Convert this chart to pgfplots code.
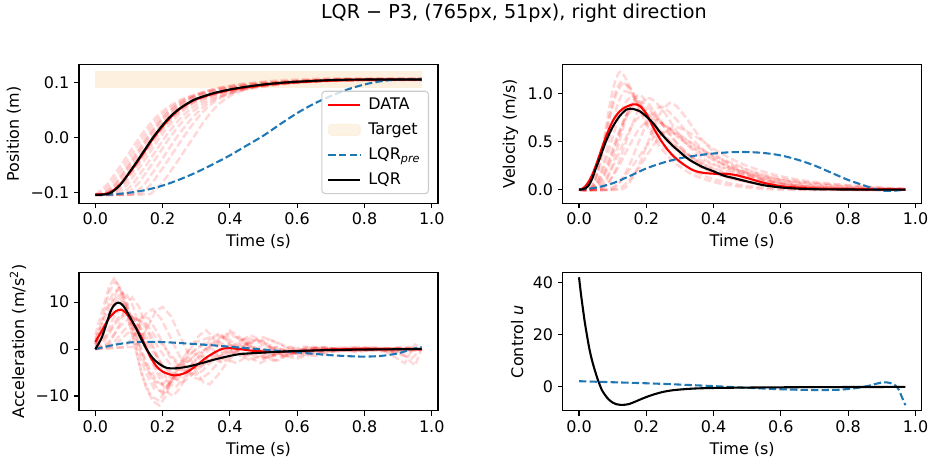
\documentclass[border=0pt]{standalone}
\usepackage{fontspec}
\setmainfont{DejaVu Sans}
\usepackage{pgfplots}
\pgfplotsset{compat=1.18}
\definecolor{tabblue}{HTML}{1F77B4}
\definecolor{targetc}{RGB}{253,240,222}
\pgfplotsset{
  myax/.style={
    scale only axis, width=258.48bp, height=99.72bp,
    anchor=north west,
    xmin=-0.0485, xmax=1.0185,
    xtick={0,0.2,0.4,0.6,0.8,1.0},
    xticklabels={0.0,0.2,0.4,0.6,0.8,1.0},
    tick align=outside, xtick pos=bottom, ytick pos=left,
    major tick length=3.4bp,
    every tick/.style={black, line width=0.77bp},
    axis line style={line width=0.77bp},
    tick label style={font=\fontsize{11.5bp}{13bp}\selectfont},
    label style={font=\fontsize{11.5bp}{13bp}\selectfont},
    xlabel={Time (s)},
    legend image code/.code={\draw[#1] (0bp,0bp) -- (23bp,0bp);},
  },
  trial/.style={red, opacity=0.15, line width=1.8bp, dash pattern=on 5.3bp off 2.3bp, forget plot},
  meanl/.style={red, line width=1.5bp, forget plot},
  lqrl/.style={black, line width=1.5bp, forget plot},
  prel/.style={tabblue, line width=1.5bp, dash pattern=on 5.3bp off 2.3bp, forget plot},
}
\begin{document}
\begin{tikzpicture}
\path[use as bounding box] (0bp,0bp) rectangle (668.16bp,-336.96bp);
\node[font=\fontsize{13.8bp}{16bp}\selectfont] at (370bp,-9.4bp) {LQR − P3, (765px, 51px), right direction};

% ---------------- Position ----------------
\begin{axis}[myax, at={(56.88bp,-46.58bp)},
  ymin=-0.12, ymax=0.132,
  ytick={-0.1,0,0.1}, yticklabels={−0.1,0.0,0.1},
  ylabel={Position (m)},
  legend style={at={(0.975,0.065)}, anchor=south east, draw=black!20, line width=0.77bp,
    rounded corners=2.5bp, fill=white, fill opacity=0.8, text opacity=1,
    font=\fontsize{11.5bp}{13bp}\selectfont, inner xsep=4bp, inner ysep=3bp,
    row sep=4bp, column sep=3bp},
  legend cell align=left]
\addplot[fill=targetc, draw=none, forget plot] coordinates {(0,0.09) (0.97,0.09) (0.97,0.12) (0,0.12)} -- cycle;
\addplot[trial, smooth] coordinates {(0,-0.105)(0.01,-0.0995)(0.035,-0.086)(0.06,-0.065)(0.085,-0.043)(0.11,-0.020)(0.132,0)(0.16,0.022)(0.185,0.039)(0.21,0.052)(0.235,0.062)(0.26,0.070)(0.31,0.080)(0.36,0.087)(0.41,0.092)(0.46,0.096)(0.51,0.099)(0.56,0.101)(0.66,0.104)(0.76,0.105)(0.97,0.105)};
\addplot[trial, smooth] coordinates {(0,-0.105)(0.02,-0.0995)(0.045,-0.086)(0.07,-0.065)(0.095,-0.043)(0.12,-0.020)(0.142,0)(0.17,0.022)(0.195,0.039)(0.22,0.052)(0.245,0.062)(0.27,0.070)(0.32,0.080)(0.37,0.087)(0.42,0.092)(0.47,0.096)(0.52,0.099)(0.57,0.101)(0.67,0.104)(0.77,0.105)(0.97,0.106)};
\addplot[trial, smooth] coordinates {(0,-0.105)(0.01,-0.104)(0.03,-0.0995)(0.055,-0.086)(0.08,-0.065)(0.105,-0.043)(0.13,-0.020)(0.152,0)(0.18,0.022)(0.205,0.039)(0.23,0.052)(0.255,0.062)(0.28,0.070)(0.33,0.080)(0.38,0.087)(0.43,0.092)(0.48,0.096)(0.53,0.099)(0.58,0.101)(0.68,0.104)(0.78,0.105)(0.97,0.104)};
\addplot[trial, smooth] coordinates {(0,-0.105)(0.015,-0.104)(0.035,-0.0995)(0.06,-0.086)(0.085,-0.065)(0.11,-0.043)(0.135,-0.020)(0.157,0)(0.185,0.023)(0.21,0.041)(0.235,0.055)(0.26,0.066)(0.285,0.074)(0.335,0.085)(0.385,0.092)(0.435,0.097)(0.485,0.100)(0.535,0.103)(0.6,0.105)(0.7,0.107)(0.97,0.107)};
\addplot[trial, smooth] coordinates {(0,-0.105)(0.02,-0.104)(0.04,-0.0995)(0.065,-0.086)(0.09,-0.065)(0.115,-0.043)(0.14,-0.020)(0.162,0)(0.19,0.022)(0.215,0.039)(0.24,0.052)(0.265,0.062)(0.29,0.070)(0.34,0.080)(0.39,0.087)(0.44,0.092)(0.49,0.096)(0.54,0.099)(0.59,0.101)(0.69,0.104)(0.79,0.105)(0.97,0.106)};
\addplot[trial, smooth] coordinates {(0,-0.105)(0.03,-0.104)(0.05,-0.099)(0.075,-0.084)(0.1,-0.062)(0.125,-0.040)(0.15,-0.018)(0.172,0.002)(0.2,0.025)(0.225,0.043)(0.25,0.057)(0.275,0.068)(0.3,0.076)(0.35,0.087)(0.4,0.093)(0.45,0.097)(0.5,0.100)(0.6,0.103)(0.7,0.105)(0.97,0.106)};
\addplot[trial, smooth] coordinates {(0,-0.105)(0.035,-0.104)(0.055,-0.0995)(0.08,-0.086)(0.105,-0.065)(0.13,-0.043)(0.155,-0.020)(0.177,0)(0.205,0.021)(0.23,0.037)(0.255,0.050)(0.28,0.060)(0.305,0.068)(0.355,0.078)(0.405,0.085)(0.455,0.090)(0.505,0.094)(0.555,0.097)(0.605,0.100)(0.705,0.103)(0.805,0.104)(0.97,0.104)};
\addplot[trial, smooth] coordinates {(0,-0.105)(0.04,-0.104)(0.06,-0.0995)(0.085,-0.086)(0.11,-0.065)(0.135,-0.043)(0.16,-0.020)(0.182,0)(0.21,0.022)(0.235,0.039)(0.26,0.052)(0.285,0.062)(0.31,0.070)(0.36,0.080)(0.41,0.087)(0.46,0.092)(0.51,0.096)(0.56,0.099)(0.61,0.101)(0.71,0.104)(0.81,0.105)(0.97,0.105)};
\addplot[trial, smooth] coordinates {(0,-0.105)(0.05,-0.104)(0.07,-0.0995)(0.095,-0.086)(0.12,-0.065)(0.145,-0.043)(0.17,-0.020)(0.192,0)(0.22,0.022)(0.245,0.039)(0.27,0.052)(0.295,0.062)(0.32,0.070)(0.37,0.080)(0.42,0.087)(0.47,0.092)(0.52,0.096)(0.57,0.099)(0.62,0.101)(0.72,0.104)(0.82,0.106)(0.97,0.106)};
\addplot[trial, smooth] coordinates {(0,-0.105)(0.065,-0.104)(0.085,-0.0995)(0.11,-0.086)(0.135,-0.065)(0.16,-0.043)(0.185,-0.020)(0.207,0)(0.235,0.022)(0.26,0.039)(0.285,0.052)(0.31,0.062)(0.335,0.070)(0.385,0.080)(0.435,0.087)(0.485,0.092)(0.535,0.096)(0.585,0.099)(0.635,0.101)(0.735,0.104)(0.835,0.105)(0.97,0.105)};
\addplot[trial, smooth] coordinates {(0,-0.105)(0.08,-0.104)(0.1,-0.0995)(0.125,-0.086)(0.15,-0.065)(0.175,-0.043)(0.2,-0.020)(0.222,0)(0.25,0.022)(0.275,0.039)(0.3,0.052)(0.325,0.062)(0.35,0.070)(0.4,0.080)(0.45,0.087)(0.5,0.092)(0.55,0.096)(0.6,0.099)(0.65,0.101)(0.75,0.104)(0.85,0.105)(0.97,0.105)};
\addplot[trial, smooth] coordinates {(0,-0.105)(0.1,-0.104)(0.12,-0.0995)(0.145,-0.086)(0.17,-0.065)(0.195,-0.043)(0.22,-0.020)(0.242,0)(0.27,0.022)(0.295,0.040)(0.32,0.054)(0.345,0.065)(0.37,0.073)(0.42,0.084)(0.47,0.091)(0.52,0.096)(0.57,0.099)(0.62,0.101)(0.72,0.104)(0.82,0.105)(0.97,0.105)};
\addplot[trial, smooth] coordinates {(0,-0.105)(0.12,-0.104)(0.14,-0.0995)(0.165,-0.086)(0.19,-0.065)(0.215,-0.043)(0.24,-0.020)(0.262,0)(0.29,0.024)(0.315,0.043)(0.34,0.058)(0.365,0.069)(0.39,0.077)(0.44,0.088)(0.49,0.094)(0.54,0.098)(0.59,0.101)(0.69,0.104)(0.79,0.105)(0.97,0.105)};
\addplot[trial, smooth] coordinates {(0,-0.105)(0.15,-0.104)(0.17,-0.0995)(0.195,-0.086)(0.22,-0.065)(0.245,-0.043)(0.27,-0.020)(0.292,0)(0.32,0.026)(0.345,0.046)(0.37,0.062)(0.395,0.073)(0.42,0.081)(0.47,0.091)(0.52,0.097)(0.57,0.100)(0.62,0.102)(0.72,0.104)(0.82,0.105)(0.97,0.105)};
\addplot[meanl, smooth] coordinates {(0,-0.104)(0.03,-0.103)(0.05,-0.098)(0.075,-0.085)(0.1,-0.066)(0.125,-0.045)(0.15,-0.022)(0.172,-0.002)(0.2,0.020)(0.225,0.037)(0.25,0.051)(0.275,0.061)(0.3,0.069)(0.35,0.079)(0.4,0.086)(0.45,0.091)(0.5,0.095)(0.55,0.098)(0.6,0.100)(0.7,0.103)(0.8,0.104)(0.97,0.105)};
\addplot[prel, smooth] coordinates {(0,-0.105)(0.05,-0.104)(0.1,-0.101)(0.15,-0.096)(0.2,-0.088)(0.25,-0.077)(0.3,-0.064)(0.35,-0.049)(0.4,-0.033)(0.45,-0.015)(0.5,0.003)(0.55,0.024)(0.6,0.044)(0.65,0.061)(0.7,0.075)(0.75,0.087)(0.8,0.096)(0.85,0.102)(0.9,0.105)(0.97,0.105)};
\addplot[lqrl, smooth] coordinates {(0,-0.105)(0.03,-0.104)(0.05,-0.0995)(0.075,-0.086)(0.1,-0.065)(0.125,-0.043)(0.15,-0.020)(0.172,0)(0.2,0.022)(0.225,0.039)(0.25,0.052)(0.275,0.062)(0.3,0.070)(0.35,0.080)(0.4,0.087)(0.45,0.092)(0.5,0.096)(0.55,0.099)(0.6,0.101)(0.7,0.104)(0.8,0.105)(0.97,0.105)};
\addlegendimage{red, line width=1.5bp}
\addlegendentry{DATA}
\addlegendimage{legend image code/.code={\fill[targetc] (0bp,-3.9bp) rectangle (23bp,3.9bp);}}
\addlegendentry{Target}
\addlegendimage{tabblue, line width=1.5bp, dash pattern=on 5.3bp off 2.3bp}
\addlegendentry{LQR\textsubscript{\textit{pre}}}
\addlegendimage{black, line width=1.5bp}
\addlegendentry{LQR}
\end{axis}

% ---------------- Velocity ----------------
\begin{axis}[myax, at={(405.14bp,-46.58bp)},
  ymin=-0.141, ymax=1.297,
  ytick={0,0.5,1.0}, yticklabels={0.0,0.5,1.0},
  ylabel={Velocity (m/s)}]
\addplot[trial, smooth] coordinates {(0,0)(0.03,0)(0.048,0.098)(0.066,0.366)(0.084,0.732)(0.102,1.061)(0.12,1.22)(0.136,1.171)(0.16,1.0)(0.192,0.732)(0.232,0.488)(0.28,0.293)(0.344,0.146)(0.44,0.049)(0.6,0.0)(0.97,0)};
\addplot[trial, smooth] coordinates {(0,0)(0.025,0)(0.045,0.09)(0.065,0.336)(0.085,0.672)(0.105,0.974)(0.125,1.12)(0.143,1.075)(0.17,0.918)(0.206,0.672)(0.251,0.448)(0.305,0.269)(0.377,0.134)(0.485,0.045)(0.665,0)(0.97,0)};
\addplot[trial, smooth] coordinates {(0,0)(0.03,0)(0.05,0.1)(0.07,0.38)(0.09,0.72)(0.11,0.98)(0.13,1.1)(0.15,1.06)(0.18,0.9)(0.22,0.68)(0.27,0.5)(0.32,0.37)(0.38,0.28)(0.45,0.2)(0.52,0.12)(0.6,0.06)(0.7,0.02)(0.85,0)(0.97,0)};
\addplot[trial, smooth] coordinates {(0,0)(0.035,0)(0.055,0.082)(0.075,0.306)(0.095,0.612)(0.115,0.887)(0.135,1.02)(0.157,0.979)(0.19,0.836)(0.234,0.612)(0.289,0.408)(0.355,0.245)(0.443,0.122)(0.575,0.041)(0.795,0)(0.97,0)};
\addplot[trial, smooth] coordinates {(0,0)(0.03,0)(0.054,0.076)(0.078,0.285)(0.102,0.57)(0.126,0.827)(0.15,0.95)(0.172,0.912)(0.205,0.779)(0.249,0.57)(0.304,0.38)(0.37,0.228)(0.458,0.114)(0.59,0.038)(0.81,0)(0.97,0)};
\addplot[trial, smooth] coordinates {(0,0)(0.03,0)(0.056,0.066)(0.082,0.249)(0.108,0.498)(0.134,0.722)(0.16,0.83)(0.185,0.797)(0.2225,0.681)(0.2725,0.498)(0.335,0.332)(0.41,0.199)(0.51,0.1)(0.66,0.033)(0.91,0)(0.97,0)};
\addplot[trial, smooth] coordinates {(0,0)(0.035,0)(0.061,0.07)(0.087,0.264)(0.113,0.528)(0.139,0.766)(0.165,0.88)(0.195,0.845)(0.24,0.722)(0.3,0.528)(0.375,0.352)(0.465,0.211)(0.585,0.106)(0.765,0.035)(0.97,0.005)};
\addplot[trial, smooth] coordinates {(0,0)(0.04,0)(0.07,0.1)(0.1,0.35)(0.13,0.67)(0.15,0.85)(0.17,0.92)(0.19,0.9)(0.22,0.8)(0.26,0.62)(0.3,0.45)(0.35,0.3)(0.4,0.22)(0.45,0.18)(0.5,0.15)(0.56,0.09)(0.63,0.04)(0.75,0.01)(0.97,0)};
\addplot[trial, smooth] coordinates {(0,0)(0.055,0)(0.079,0.078)(0.103,0.294)(0.127,0.588)(0.151,0.853)(0.175,0.98)(0.195,0.941)(0.225,0.804)(0.265,0.588)(0.315,0.392)(0.375,0.235)(0.455,0.118)(0.575,0.039)(0.775,0)(0.97,0)};
\addplot[trial, smooth] coordinates {(0,0)(0.04,0)(0.07,0.062)(0.1,0.234)(0.13,0.468)(0.16,0.679)(0.19,0.78)(0.22,0.749)(0.265,0.64)(0.325,0.468)(0.4,0.312)(0.49,0.187)(0.61,0.094)(0.79,0.031)(0.97,0)};
\addplot[trial, smooth] coordinates {(0,0)(0.06,0)(0.09,0.08)(0.12,0.3)(0.15,0.6)(0.18,0.86)(0.2,0.95)(0.22,0.93)(0.25,0.82)(0.28,0.66)(0.32,0.47)(0.37,0.32)(0.42,0.24)(0.48,0.19)(0.55,0.12)(0.62,0.06)(0.72,0.02)(0.97,0)};
\addplot[trial, smooth] coordinates {(0,0)(0.05,0)(0.082,0.058)(0.114,0.216)(0.146,0.432)(0.178,0.626)(0.21,0.72)(0.242,0.691)(0.29,0.59)(0.354,0.432)(0.434,0.288)(0.53,0.173)(0.658,0.086)(0.85,0.029)(0.97,0.01)};
\addplot[trial, smooth] coordinates {(0,0)(0.09,0)(0.12,0.069)(0.15,0.258)(0.18,0.516)(0.21,0.748)(0.24,0.86)(0.262,0.826)(0.295,0.705)(0.339,0.516)(0.394,0.344)(0.46,0.206)(0.548,0.103)(0.68,0.034)(0.9,0)(0.97,0)};
\addplot[trial, smooth] coordinates {(0,0)(0.08,0)(0.12,0.08)(0.16,0.25)(0.2,0.45)(0.23,0.56)(0.26,0.6)(0.3,0.56)(0.35,0.45)(0.4,0.35)(0.46,0.27)(0.52,0.18)(0.6,0.1)(0.7,0.04)(0.85,0.01)(0.97,0)};
\addplot[trial, smooth] coordinates {(0,0)(0.12,0)(0.15,0.072)(0.18,0.27)(0.21,0.54)(0.24,0.783)(0.27,0.9)(0.29,0.864)(0.32,0.738)(0.36,0.54)(0.41,0.36)(0.47,0.216)(0.55,0.108)(0.67,0.036)(0.87,0)(0.97,0)};
\addplot[trial, smooth] coordinates {(0,0)(0.10,0)(0.136,0.052)(0.172,0.195)(0.208,0.39)(0.244,0.566)(0.28,0.65)(0.31,0.624)(0.355,0.533)(0.415,0.39)(0.49,0.26)(0.58,0.156)(0.70,0.078)(0.88,0.026)(0.97,0.01)};
\addplot[meanl, smooth] coordinates {(0,0)(0.01,0.01)(0.02,0.04)(0.03,0.09)(0.04,0.16)(0.05,0.25)(0.06,0.35)(0.08,0.55)(0.10,0.71)(0.12,0.81)(0.14,0.86)(0.16,0.885)(0.17,0.885)(0.18,0.87)(0.20,0.79)(0.22,0.65)(0.24,0.53)(0.26,0.43)(0.28,0.35)(0.30,0.29)(0.32,0.24)(0.34,0.20)(0.36,0.18)(0.38,0.17)(0.40,0.165)(0.43,0.165)(0.46,0.155)(0.49,0.13)(0.52,0.10)(0.55,0.07)(0.60,0.035)(0.65,0.02)(0.70,0.01)(0.80,0.005)(0.97,0)};
\addplot[prel, smooth] coordinates {(0,0)(0.05,0.02)(0.1,0.066)(0.15,0.14)(0.2,0.22)(0.25,0.28)(0.3,0.325)(0.35,0.355)(0.4,0.375)(0.45,0.388)(0.5,0.39)(0.55,0.38)(0.6,0.355)(0.65,0.31)(0.7,0.25)(0.75,0.175)(0.8,0.1)(0.85,0.04)(0.88,0.005)(0.91,-0.013)(0.94,-0.01)(0.97,0)};
\addplot[lqrl, smooth] coordinates {(0,0)(0.01,0.003)(0.02,0.015)(0.03,0.05)(0.04,0.12)(0.05,0.22)(0.06,0.31)(0.08,0.50)(0.10,0.65)(0.12,0.76)(0.14,0.83)(0.15,0.84)(0.16,0.838)(0.18,0.815)(0.20,0.76)(0.22,0.69)(0.24,0.60)(0.26,0.52)(0.28,0.45)(0.30,0.39)(0.32,0.33)(0.34,0.285)(0.37,0.23)(0.40,0.19)(0.43,0.145)(0.46,0.12)(0.49,0.093)(0.52,0.068)(0.55,0.045)(0.60,0.022)(0.65,0.01)(0.70,0.004)(0.80,0.001)(0.97,0)};
\end{axis}

% ---------------- Acceleration ----------------
\begin{axis}[myax, at={(56.88bp,-196.06bp)},
  ymin=-13.15, ymax=16.36,
  ytick={-10,0,10}, yticklabels={−10,0,10},
  ylabel={Acceleration (m/s\textsuperscript{2})}]
\addplot[trial] coordinates {(0,1)(0.02,6)(0.04,12)(0.06,14.5)(0.08,12)(0.1,6)(0.12,0)(0.14,-6)(0.165,-10)(0.19,-11)(0.215,-8)(0.24,-4)(0.27,-1)(0.3,1.5)(0.34,2.5)(0.38,1)(0.42,-1.5)(0.47,-1)(0.52,0.5)(0.58,-0.5)(0.65,0.3)(0.75,-0.2)(0.85,0.2)(0.97,0)};
\addplot[trial] coordinates {(0,2)(0.025,7)(0.05,11.5)(0.07,13)(0.09,11)(0.11,5)(0.125,0)(0.15,-5)(0.175,-8.5)(0.2,-9)(0.23,-6.5)(0.26,-3)(0.29,-0.5)(0.32,1)(0.36,3)(0.4,2)(0.44,-1)(0.5,-2)(0.55,-0.5)(0.62,0.5)(0.7,-0.3)(0.8,0.2)(0.9,-0.5)(0.97,0)};
\addplot[trial] coordinates {(0,0.5)(0.03,5)(0.055,9.5)(0.075,11)(0.1,8)(0.12,3)(0.135,0)(0.16,-4)(0.185,-7)(0.21,-8)(0.24,-6)(0.27,-3)(0.3,-1)(0.34,0.5)(0.38,-2)(0.42,-3)(0.46,-1)(0.5,1)(0.56,-1)(0.64,0)(0.72,-0.5)(0.82,0.3)(0.9,-1)(0.97,0)};
\addplot[trial] coordinates {(0,0)(0.03,3)(0.06,7.5)(0.085,9)(0.11,7)(0.13,3)(0.15,0)(0.18,-4)(0.205,-6.5)(0.23,-7)(0.26,-5.5)(0.29,-3)(0.32,-0.5)(0.36,1.5)(0.4,3)(0.44,2)(0.48,-0.5)(0.54,-1.5)(0.6,-0.5)(0.68,0.4)(0.78,-0.3)(0.88,0.2)(0.97,0)};
\addplot[trial] coordinates {(0,0.5)(0.035,3)(0.065,6.5)(0.09,8)(0.115,6.5)(0.14,3)(0.165,0)(0.2,-3.5)(0.23,-5)(0.25,-5.5)(0.28,-4.5)(0.31,-3)(0.35,-1.5)(0.4,-0.5)(0.45,1)(0.5,-0.5)(0.56,-1.5)(0.62,-0.5)(0.7,0)(0.8,-0.4)(0.9,0.3)(0.97,0)};
\addplot[trial] coordinates {(0,0)(0.04,1)(0.07,5)(0.09,9)(0.11,11)(0.13,9)(0.155,4)(0.175,0)(0.2,-4.5)(0.22,-7.5)(0.24,-8)(0.265,-6)(0.29,-3)(0.32,-0.5)(0.36,2)(0.4,3.5)(0.44,1.5)(0.48,-1)(0.53,-2.5)(0.58,-1)(0.65,0.5)(0.75,-0.3)(0.85,0)(0.92,-3)(0.95,1)(0.97,0)};
\addplot[trial] coordinates {(0,0)(0.04,1.5)(0.075,5)(0.11,7)(0.14,5.5)(0.165,3)(0.19,0)(0.22,-3)(0.25,-4.3)(0.28,-4.5)(0.31,-3.5)(0.35,-2)(0.4,0.5)(0.45,2.5)(0.5,1)(0.55,-1)(0.6,-1.5)(0.67,-0.5)(0.75,0.5)(0.85,-0.5)(0.97,0)};
\addplot[trial] coordinates {(0,0)(0.05,1)(0.085,4)(0.12,6.5)(0.15,5.5)(0.18,2.5)(0.21,0)(0.24,-2.5)(0.27,-3.8)(0.3,-4)(0.33,-3)(0.37,-1.5)(0.42,-0.5)(0.47,1.5)(0.52,2)(0.57,0.5)(0.63,-1)(0.7,-0.5)(0.8,0.2)(0.9,-0.8)(0.94,-2)(0.97,0)};
\addplot[trial] coordinates {(0,0)(0.09,0.5)(0.12,3.5)(0.15,7.5)(0.17,8.5)(0.195,6.5)(0.22,3)(0.24,0)(0.265,-3.5)(0.29,-6)(0.31,-6.5)(0.34,-5)(0.37,-2.5)(0.4,-0.5)(0.44,1)(0.48,2)(0.53,0.5)(0.58,-1)(0.65,-0.5)(0.72,0.3)(0.82,-0.2)(0.97,0)};
\addplot[trial] coordinates {(0,0)(0.12,0.5)(0.15,4)(0.18,8)(0.2,9)(0.225,7)(0.25,3)(0.27,0)(0.295,-4)(0.32,-7)(0.34,-7.5)(0.365,-5.5)(0.39,-3)(0.42,-0.5)(0.46,1.5)(0.5,2.5)(0.55,1)(0.6,-1)(0.66,-1.5)(0.72,-0.3)(0.8,0.3)(0.9,0)(0.97,0)};
\addplot[trial] coordinates {(0,3)(0.02,8)(0.04,13)(0.055,15)(0.07,13.5)(0.09,9)(0.11,3)(0.13,-3)(0.15,-8)(0.17,-11)(0.19,-12)(0.21,-10)(0.23,-6)(0.25,-3.5)(0.27,-1)(0.29,1)(0.31,3)(0.33,4)(0.35,2.5)(0.37,3.5)(0.4,1)(0.43,-1)(0.46,-2.5)(0.5,-1)(0.54,0.5)(0.58,-1)(0.62,0)(0.68,-0.8)(0.75,0.3)(0.82,-0.3)(0.9,0.3)(0.97,0)};
\addplot[trial] coordinates {(0,1)(0.025,4)(0.05,8)(0.07,11.5)(0.09,12)(0.11,9.5)(0.13,5)(0.15,1)(0.17,-3)(0.19,-6)(0.21,-9)(0.23,-10)(0.25,-8.5)(0.27,-6)(0.29,-4)(0.31,-2)(0.34,0)(0.37,1.5)(0.4,4)(0.43,2.5)(0.46,0.5)(0.5,-1.5)(0.54,-2.5)(0.58,-1)(0.63,0.5)(0.7,-0.5)(0.78,0.5)(0.86,-0.3)(0.93,0.5)(0.97,0)};
\addplot[trial] coordinates {(0,0)(0.03,2)(0.06,5.5)(0.08,7)(0.1,7.5)(0.12,6)(0.14,4)(0.16,1.5)(0.18,-1)(0.2,-3.5)(0.22,-5)(0.24,-6.5)(0.26,-7)(0.28,-6)(0.3,-4.5)(0.32,-3.5)(0.35,-2)(0.38,-3)(0.41,-1)(0.44,0.5)(0.47,-0.5)(0.5,-2)(0.54,-1)(0.58,0.5)(0.63,-0.5)(0.7,0.2)(0.78,-0.6)(0.86,0.2)(0.97,0)};
\addplot[trial] coordinates {(0,1)(0.03,5)(0.05,10)(0.065,12.5)(0.08,12)(0.1,8)(0.12,4)(0.14,-1)(0.16,-5)(0.18,-8)(0.2,-9.5)(0.22,-8)(0.24,-5)(0.26,-3)(0.28,-2.5)(0.3,-1)(0.33,-2)(0.36,-0.5)(0.39,1)(0.42,0.5)(0.45,2)(0.48,0)(0.52,-1.5)(0.56,-0.5)(0.6,-1)(0.66,0.3)(0.73,-0.4)(0.8,0.3)(0.88,-0.2)(0.97,0)};
\addplot[trial] coordinates {(0,0)(0.06,1)(0.09,3)(0.12,5)(0.14,7)(0.16,6.5)(0.18,4)(0.2,1.5)(0.22,-1.5)(0.24,-3)(0.26,-4.5)(0.28,-5)(0.3,-5.5)(0.32,-4.5)(0.34,-3)(0.37,-1.5)(0.4,0)(0.43,1.5)(0.46,3)(0.49,2)(0.52,0.5)(0.56,-1.5)(0.6,-2)(0.65,-1)(0.7,0)(0.77,-0.5)(0.85,0.3)(0.92,-1.5)(0.95,-3.5)(0.97,0)};
\addplot[trial] coordinates {(0,2)(0.02,5)(0.04,9)(0.06,11)(0.08,10)(0.1,7)(0.12,2.5)(0.14,-2)(0.16,-5)(0.18,-7)(0.2,-7.5)(0.22,-6)(0.24,-4)(0.27,-2)(0.3,0)(0.33,1.5)(0.36,0.5)(0.39,2)(0.42,0)(0.45,-1.5)(0.49,-3)(0.53,-1.5)(0.57,0)(0.62,-0.5)(0.68,0.4)(0.75,-0.3)(0.83,0.4)(0.9,-0.3)(0.97,0)};
\addplot[meanl, smooth] coordinates {(0,1.5)(0.02,4.0)(0.04,6.5)(0.06,8.0)(0.075,8.4)(0.09,7.8)(0.11,5.8)(0.13,3.5)(0.145,1.3)(0.16,-1.2)(0.18,-3.5)(0.2,-4.8)(0.235,-5.6)(0.27,-5.0)(0.3,-3.5)(0.33,-1.8)(0.36,-0.5)(0.38,0.1)(0.40,0.2)(0.43,0.0)(0.46,-0.3)(0.5,-0.5)(0.55,-0.6)(0.6,-0.5)(0.7,-0.1)(0.8,0)(0.97,0)};
\addplot[prel, smooth] coordinates {(0,0)(0.05,0.8)(0.1,1.4)(0.15,1.55)(0.2,1.5)(0.25,1.3)(0.3,1.05)(0.35,0.8)(0.4,0.5)(0.45,0.2)(0.5,-0.1)(0.55,-0.4)(0.6,-0.7)(0.65,-1.0)(0.7,-1.3)(0.75,-1.5)(0.8,-1.6)(0.85,-1.45)(0.9,-0.9)(0.94,0.0)(0.97,0.4)};
\addplot[lqrl, smooth] coordinates {(0,0)(0.01,1.2)(0.02,2.6)(0.035,5.8)(0.045,8.0)(0.055,9.3)(0.067,9.9)(0.078,9.6)(0.089,8.6)(0.1,7.2)(0.119,4.7)(0.134,2.5)(0.149,0.4)(0.163,-1.2)(0.177,-2.4)(0.193,-3.3)(0.208,-3.9)(0.222,-4.1)(0.237,-4.1)(0.257,-3.95)(0.277,-3.7)(0.3,-3.3)(0.326,-2.8)(0.35,-2.3)(0.376,-1.85)(0.4,-1.45)(0.426,-1.1)(0.45,-0.95)(0.486,-0.8)(0.55,-0.55)(0.6,-0.4)(0.7,-0.2)(0.8,-0.1)(0.9,-0.03)(0.97,0)};
\end{axis}

% ---------------- Control ----------------
\begin{axis}[myax, at={(405.14bp,-196.06bp)},
  ymin=-9.17, ymax=44.0,
  ytick={0,20,40}, yticklabels={0,20,40},
  ylabel={Control \textit{u}}]
\addplot[prel, smooth] coordinates {(0,2.2)(0.1,1.8)(0.2,1.4)(0.3,0.9)(0.4,0.3)(0.48,-0.2)(0.6,-0.9)(0.7,-1.2)(0.77,-1.1)(0.82,-0.5)(0.86,0.4)(0.88,1.1)(0.905,1.8)(0.925,1.5)(0.94,0.6)(0.95,-1)(0.96,-4)(0.97,-7)};
\addplot[lqrl, smooth] coordinates {(0,42.1)(0.005,36.5)(0.01,31.5)(0.017,25)(0.024,19.5)(0.031,14.5)(0.039,10)(0.047,6.4)(0.054,3.5)(0.061,1.0)(0.068,-1.2)(0.078,-3.2)(0.088,-4.8)(0.1,-6.0)(0.11,-6.6)(0.118,-6.8)(0.13,-6.9)(0.148,-6.6)(0.168,-5.6)(0.188,-4.5)(0.208,-3.5)(0.227,-2.7)(0.25,-1.9)(0.277,-1.3)(0.31,-0.9)(0.346,-0.6)(0.4,-0.4)(0.5,-0.25)(0.6,-0.15)(0.7,-0.08)(0.8,-0.04)(0.97,0)};
\end{axis}
\end{tikzpicture}
\end{document}
